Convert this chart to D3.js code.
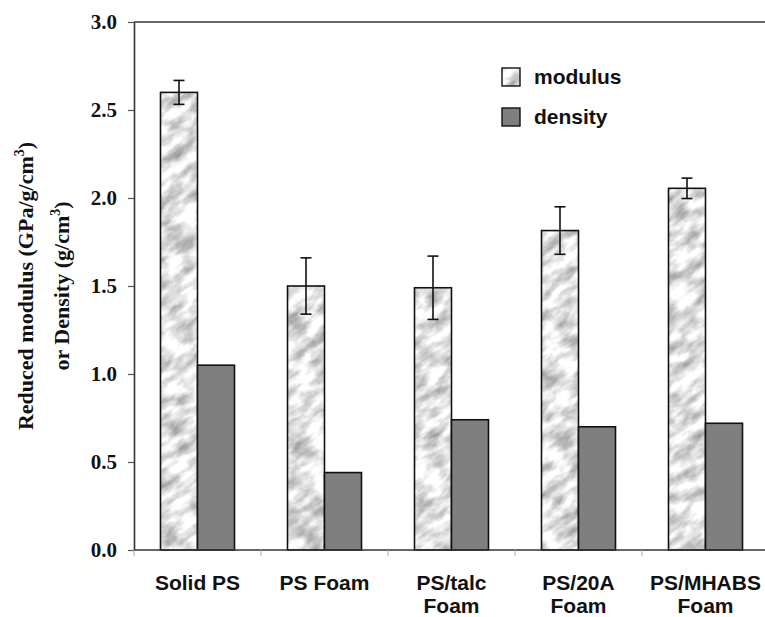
<!DOCTYPE html>
<html>
<head>
<meta charset="utf-8">
<script src="https://cdn.jsdelivr.net/npm/d3@7"></script>
<style>
  html, body { margin: 0; padding: 0; background: #fff; }
  svg { display: block; }
</style>
</head>
<body>
<script>
const categories = ["Solid PS", "PS Foam", "PS/talc Foam", "PS/20A Foam", "PS/MHABS Foam"];
const categoryLabels = [["Solid PS"], ["PS Foam"], ["PS/talc", "Foam"], ["PS/20A", "Foam"], ["PS/MHABS", "Foam"]];
const seriesNames = ["modulus", "density"];
const modulus = [2.60, 1.50, 1.49, 1.815, 2.055];
const modulusErr = [0.068, 0.16, 0.18, 0.135, 0.058];
const density = [1.05, 0.44, 0.74, 0.70, 0.72];
const yTicks = [0, 0.5, 1.0, 1.5, 2.0, 2.5, 3.0];

const W = 765, H = 617;
const margin = { left: 134, top: 22, right: -4, bottom: 67 };

const svg = d3.select("body").append("svg").attr("width", W).attr("height", H);

const defs = svg.append("defs");
const filt = defs.append("filter").attr("id", "marbleF")
  .attr("x", 0).attr("y", 0).attr("width", "100%").attr("height", "100%")
  .attr("color-interpolation-filters", "sRGB");
filt.append("feTurbulence").attr("type", "fractalNoise")
  .attr("baseFrequency", "0.045 0.09").attr("numOctaves", 5).attr("seed", 11).attr("result", "t");
filt.append("feColorMatrix").attr("in", "t").attr("type", "matrix")
  .attr("values", "0.75 0 0 0 0.51  0.75 0 0 0 0.51  0.75 0 0 0 0.51  0 0 0 0 1");
const pat = defs.append("pattern").attr("id", "marble")
  .attr("patternUnits", "userSpaceOnUse")
  .attr("x", -800).attr("y", -200).attr("width", 1800).attr("height", 1800)
  .attr("patternTransform", "rotate(-35)");
pat.append("rect").attr("width", 1800).attr("height", 1800).attr("fill", "#e6e6e6");
pat.append("rect").attr("width", 1800).attr("height", 1800).attr("filter", "url(#marbleF)");

const x0 = d3.scaleBand().domain(categories).range([margin.left, W - margin.right]).paddingInner(0).paddingOuter(0);
const x1 = d3.scaleBand().domain(seriesNames).range([0, x0.bandwidth()]).paddingInner(0).paddingOuter(0.716);
const y = d3.scaleLinear().domain([0, 3]).range([H - margin.bottom, margin.top]);

const fills = { modulus: "url(#marble)", density: "#7f7f7f" };
const values = { modulus, density };

// frame top line
svg.append("line").attr("x1", margin.left).attr("x2", W + 10)
  .attr("y1", y(3)).attr("y2", y(3)).attr("stroke", "#333").attr("stroke-width", 1.6);

// bars
categories.forEach((c, i) => {
  seriesNames.forEach(s => {
    const v = values[s][i];
    svg.append("rect")
      .attr("x", x0(c) + x1(s))
      .attr("y", y(v))
      .attr("width", x1.bandwidth())
      .attr("height", y(0) - y(v))
      .attr("fill", fills[s])
      .attr("stroke", "#111").attr("stroke-width", 1.6);
  });
  const cx = x0(c) + x1("modulus") + x1.bandwidth() / 2;
  const hi = y(modulus[i] + modulusErr[i]), lo = y(modulus[i] - modulusErr[i]);
  const g = svg.append("g").attr("stroke", "#111").attr("stroke-width", 1.6);
  g.append("line").attr("x1", cx).attr("x2", cx).attr("y1", hi).attr("y2", lo);
  g.append("line").attr("x1", cx - 5.5).attr("x2", cx + 5.5).attr("y1", hi).attr("y2", hi);
  g.append("line").attr("x1", cx - 5.5).attr("x2", cx + 5.5).attr("y1", lo).attr("y2", lo);
});

// y axis
const yAxis = d3.axisLeft(y).tickValues(yTicks).tickFormat(d3.format(".1f"))
  .tickSize(6).tickSizeOuter(0).tickPadding(11);
const ya = svg.append("g").attr("transform", `translate(${margin.left},0)`).call(yAxis);
ya.select(".domain").attr("stroke", "#333").attr("stroke-width", 1.6);
ya.selectAll(".tick line").attr("stroke", "#555").attr("stroke-width", 1.2);
ya.selectAll(".tick text").attr("font-family", "'Liberation Serif', 'Times New Roman', serif")
  .attr("font-weight", "bold").attr("font-size", 21).attr("fill", "#111");

// x axis line
svg.append("line").attr("x1", margin.left).attr("x2", W + 10)
  .attr("y1", y(0)).attr("y2", y(0)).attr("stroke", "#333").attr("stroke-width", 1.6);
categories.forEach(c => {
  svg.append("line").attr("x1", x0(c)).attr("x2", x0(c))
    .attr("y1", y(0)).attr("y2", y(0) + 6).attr("stroke", "#aaa").attr("stroke-width", 1);
});
// x labels
categories.forEach((c, i) => {
  const t = svg.append("text")
    .attr("x", x0(c) + x0.bandwidth() / 2)
    .attr("y", 590)
    .attr("text-anchor", "middle")
    .attr("font-family", "'Liberation Sans', Arial, sans-serif")
    .attr("font-weight", "bold").attr("font-size", 21).attr("fill", "#111");
  categoryLabels[i].forEach((line, k) => {
    t.append("tspan").attr("x", x0(c) + x0.bandwidth() / 2).attr("dy", k === 0 ? 0 : 23).text(line);
  });
});

// y title
const yt = svg.append("text")
  .attr("transform", `translate(0,${(y(0) + y(3)) / 2}) rotate(-90)`)
  .attr("text-anchor", "middle")
  .attr("font-family", "'Liberation Serif', 'Times New Roman', serif")
  .attr("font-weight", "bold").attr("font-size", 22).attr("fill", "#111");
const l1 = yt.append("tspan").attr("x", 0).attr("y", 33);
l1.append("tspan").text("Reduced modulus (GPa/g/cm");
l1.append("tspan").attr("dy", -9).attr("font-size", 14).text("3");
l1.append("tspan").attr("dy", 9).text(")");
const l2 = yt.append("tspan").attr("x", 0).attr("y", 69);
l2.append("tspan").text("or Density (g/cm");
l2.append("tspan").attr("dy", -9).attr("font-size", 14).text("3");
l2.append("tspan").attr("dy", 9).text(")");

// legend
const legend = svg.append("g");
seriesNames.forEach((s, i) => {
  const ly = 68 + i * 40;
  legend.append("rect").attr("x", 502).attr("y", ly).attr("width", 18).attr("height", 18)
    .attr("fill", fills[s]).attr("stroke", "#111").attr("stroke-width", 1.4);
  legend.append("text").attr("x", 534).attr("y", ly + 16)
    .attr("font-family", "'Liberation Sans', Arial, sans-serif")
    .attr("font-weight", "bold").attr("font-size", 21).attr("fill", "#111").text(s);
});
</script>
</body>
</html>
